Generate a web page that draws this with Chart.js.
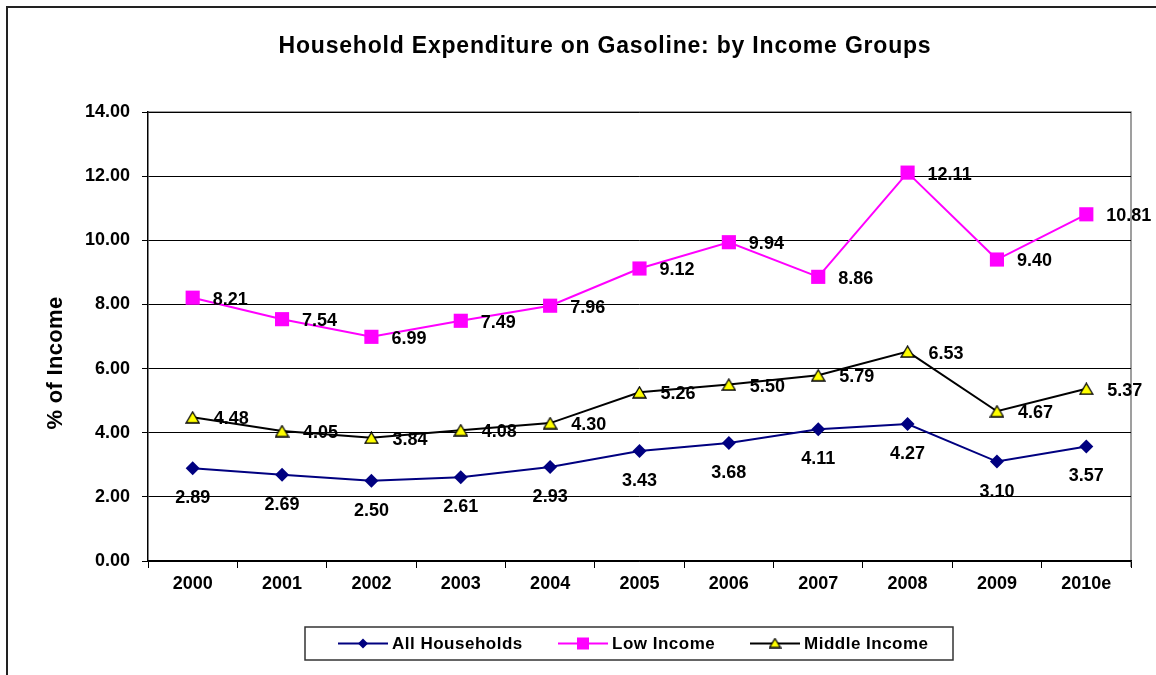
<!DOCTYPE html>
<html lang="en">
<head>
<meta charset="UTF-8"/>
<title>Household Expenditure on Gasoline: by Income Groups</title>
<script src="https://cdn.jsdelivr.net/npm/chart.js@4/dist/chart.umd.min.js"></script>
<style>
  *{box-sizing:border-box;margin:0;padding:0}
  body{background:#fff;width:1156px;height:675px;overflow:hidden}
  #wrap{position:relative;width:1156px;height:675px}
</style>
</head>
<body>
<div id="wrap"><canvas id="chart" width="1156" height="675"></canvas></div>
<script>
// ── Data ────────────────────────────────────────────────────────────────────
const years        = ['2000','2001','2002','2003','2004','2005','2006','2007','2008','2009','2010e'];
const allHouse     = [2.89, 2.69, 2.50, 2.61, 2.93, 3.43, 3.68, 4.11, 4.27, 3.10, 3.57];
const lowIncome    = [8.21, 7.54, 6.99, 7.49, 7.96, 9.12, 9.94, 8.86, 12.11, 9.40, 10.81];
const middleIncome = [4.48, 4.05, 3.84, 4.08, 4.30, 5.26, 5.50, 5.79, 6.53, 4.67, 5.37];

const FONT = '"Liberation Sans", Arial, sans-serif';

// triangle marker with yellow fill
function makeTri(w, h) {
  const cv = document.createElement('canvas');
  cv.width = w; cv.height = h;
  const c = cv.getContext('2d');
  c.beginPath(); c.moveTo(w / 2, 1); c.lineTo(w - 1, h - 1); c.lineTo(1, h - 1); c.closePath();
  c.fillStyle = '#ffff00'; c.fill();
  c.strokeStyle = '#000'; c.lineWidth = 1.3; c.stroke();
  return cv;
}
const tri = makeTri(15, 13);
const triSmall = makeTri(13, 11);

// ── Plugins: frame, title, labels, legend ───────────────────────────────────
const decor = {
  id: 'decor',
  beforeDraw(chart) {
    const ctx = chart.ctx, a = chart.chartArea;
    ctx.save();
    ctx.fillStyle = '#fff';
    ctx.fillRect(0, 0, chart.width, chart.height);
    ctx.strokeStyle = '#222'; ctx.lineWidth = 2;
    ctx.strokeRect(7, 7, chart.width + 20, chart.height + 20);
    // plot frame (top/right grey)
    ctx.strokeStyle = '#808080'; ctx.lineWidth = 1.5;
    ctx.beginPath();
    ctx.moveTo(a.left, a.top); ctx.lineTo(a.right, a.top); ctx.lineTo(a.right, a.bottom + 6);
    ctx.stroke();
    // title
    ctx.fillStyle = '#000';
    ctx.font = 'bold 23px ' + FONT;
    ctx.letterSpacing = '0.8px';
    ctx.textAlign = 'center'; ctx.textBaseline = 'middle';
    ctx.fillText('Household Expenditure on Gasoline: by Income Groups', 605, 47);
    // y title
    ctx.save();
    ctx.translate(56, 363); ctx.rotate(-Math.PI / 2);
    ctx.font = 'bold 22px ' + FONT;
    ctx.letterSpacing = '0.3px';
    ctx.fillText('% of Income', 0, 0);
    ctx.restore();
    ctx.restore();
  },
  afterDatasetsDraw(chart) {
    const ctx = chart.ctx, x = chart.scales.x, y = chart.scales.y;
    ctx.save();
    ctx.fillStyle = '#000';
    ctx.font = 'bold 18px ' + FONT;
    ctx.textBaseline = 'middle';
    years.forEach((_, i) => {
      const px = x.getPixelForValue(i);
      ctx.textAlign = 'center';
      ctx.fillText(allHouse[i].toFixed(2), px, y.getPixelForValue(allHouse[i]) + 30);
      ctx.textAlign = 'left';
      ctx.fillText(lowIncome[i].toFixed(2), px + 20, y.getPixelForValue(lowIncome[i]) + 2);
      ctx.fillText(middleIncome[i].toFixed(2), px + 21, y.getPixelForValue(middleIncome[i]) + 2);
    });
    // legend
    const L = 305, T = 627, W = 648, H = 33;
    ctx.strokeStyle = '#333'; ctx.lineWidth = 1.5;
    ctx.strokeRect(L, T, W, H);
    const cy = T + H / 2;
    const items = [
      { x: 338, tx: 392, label: 'All Households', color: '#000080', mark: 'diamond' },
      { x: 558, tx: 612, label: 'Low Income',     color: '#ff00ff', mark: 'square' },
      { x: 750, tx: 804, label: 'Middle Income',  color: '#000000', mark: 'tri' },
    ];
    items.forEach(it => {
      ctx.strokeStyle = it.color; ctx.lineWidth = 2;
      ctx.beginPath(); ctx.moveTo(it.x, cy); ctx.lineTo(it.x + 50, cy); ctx.stroke();
      const mx = it.x + 25;
      if (it.mark === 'diamond') {
        ctx.fillStyle = it.color;
        ctx.beginPath(); ctx.moveTo(mx, cy - 5); ctx.lineTo(mx + 5, cy); ctx.lineTo(mx, cy + 5); ctx.lineTo(mx - 5, cy); ctx.closePath(); ctx.fill();
      } else if (it.mark === 'square') {
        ctx.fillStyle = it.color; ctx.fillRect(mx - 6, cy - 6, 12, 12);
      } else {
        ctx.drawImage(triSmall, mx - 6.5, cy - 6);
      }
      ctx.fillStyle = '#000'; ctx.font = 'bold 17px ' + FONT;
      ctx.letterSpacing = '0.5px';
      ctx.textAlign = 'left'; ctx.textBaseline = 'middle';
      ctx.fillText(it.label, it.tx, cy + 1);
      ctx.letterSpacing = '0px';
    });
    ctx.restore();
  }
};

new Chart(document.getElementById('chart'), {
  type: 'line',
  data: {
    labels: years,
    datasets: [
      { label: 'All Households', data: allHouse, borderColor: '#000080', backgroundColor: '#000080',
        borderWidth: 2, pointStyle: 'rectRot', pointRadius: 7, pointBorderWidth: 0, tension: 0 },
      { label: 'Low Income', data: lowIncome, borderColor: '#ff00ff', backgroundColor: '#ff00ff',
        borderWidth: 2, pointStyle: 'rect', pointRadius: 10, pointBorderWidth: 0, tension: 0 },
      { label: 'Middle Income', data: middleIncome, borderColor: '#000000', backgroundColor: '#ffff00',
        borderWidth: 2, pointStyle: tri, pointRadius: 8, tension: 0 },
    ]
  },
  options: {
    responsive: false,
    animation: false,
    devicePixelRatio: 1,
    layout: { padding: { left: 0, top: 112, right: 25, bottom: 74 } },
    plugins: { legend: { display: false }, title: { display: false }, tooltip: { enabled: false } },
    scales: {
      x: {
        offset: true,
        grid: { offset: true, drawOnChartArea: false, drawTicks: true, tickLength: 7, color: '#000', lineWidth: 1 },
        border: { color: '#000', width: 1.5 },
        ticks: { color: '#000', font: { family: FONT, size: 18, weight: 'bold' }, padding: 5, maxRotation: 0 },
        afterFit: s => { s.height = 40; }
      },
      y: {
        min: 0, max: 14,
        grid: { color: '#000', lineWidth: 1, tickLength: 6, drawTicks: true },
        border: { color: '#000', width: 1.5 },
        ticks: { stepSize: 2, color: '#000', font: { family: FONT, size: 18, weight: 'bold' }, padding: 12,
                 callback: v => v.toFixed(2) },
        afterFit: s => { s.width = 148; }
      }
    }
  },
  plugins: [decor]
});
</script>
</body>
</html>
